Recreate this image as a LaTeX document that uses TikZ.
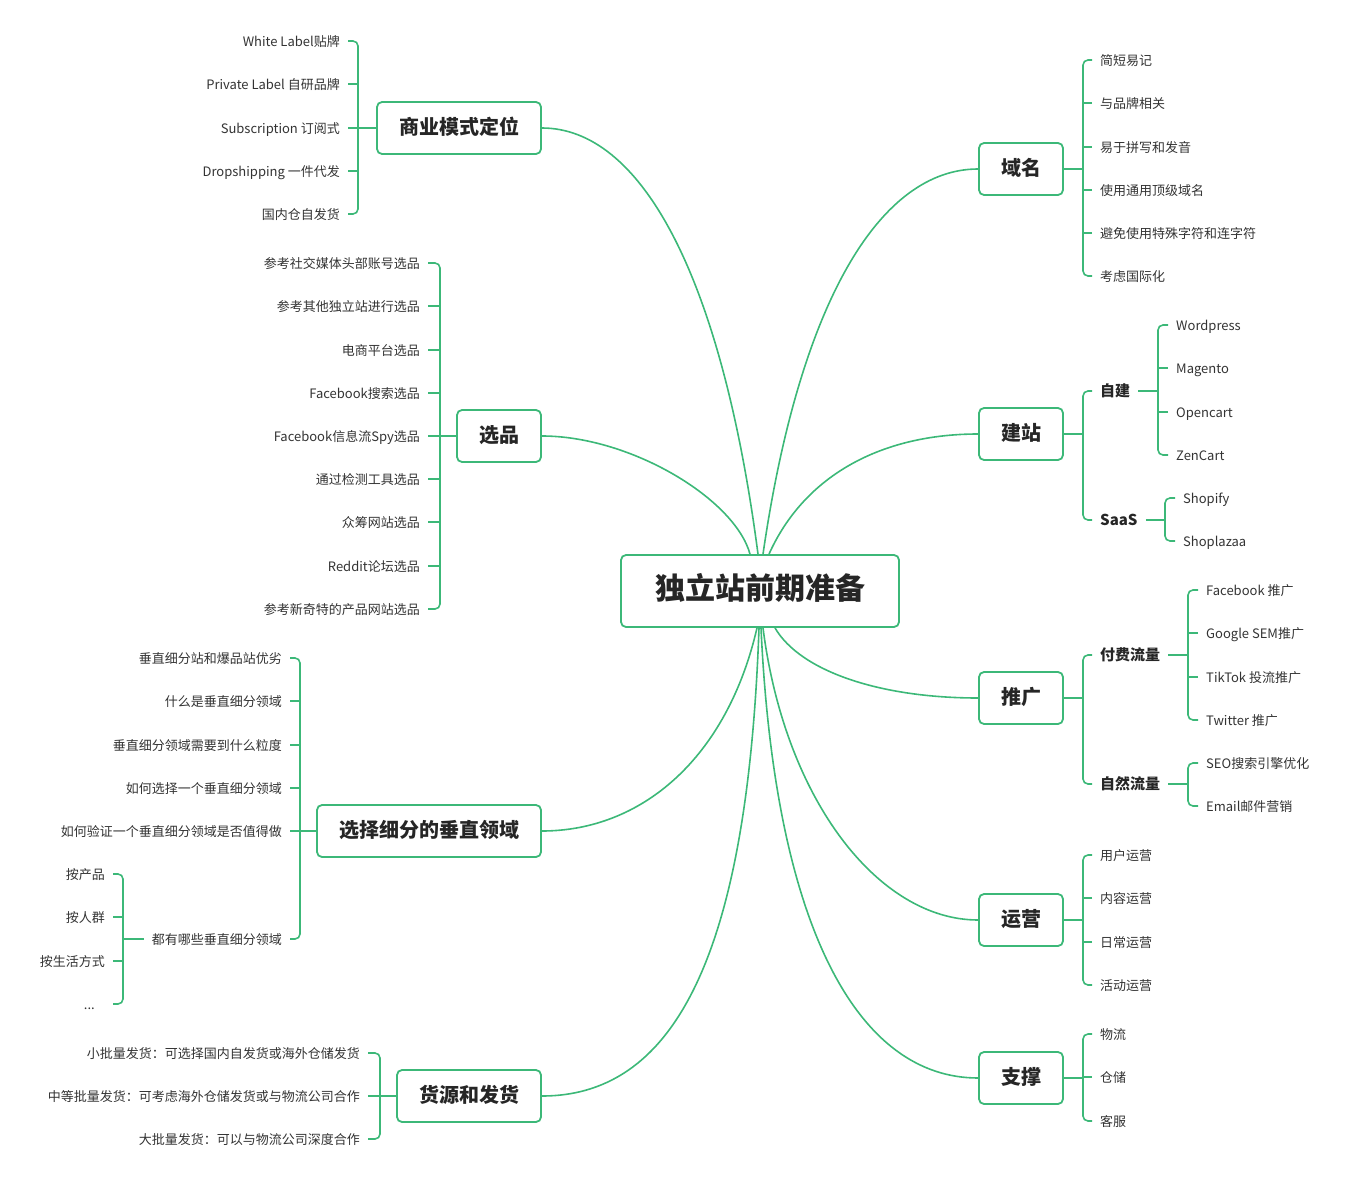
\documentclass[tikz,border=0pt]{standalone}
\usepackage{fontspec}
\setmainfont{Noto Sans CJK SC}
\usepackage{tikz}
\definecolor{mapgreen}{HTML}{3CB878}
\definecolor{leaftext}{HTML}{333333}
\tikzset{
    root/.style={
        rectangle, rounded corners=5pt, minimum width=278pt, minimum height=72pt,
        draw=mapgreen, line width=1.8pt, fill=white, text=black!85,
        text height=1.75em, text depth=0.05em, font=\fontsize{30}{35}\selectfont\bfseries
    },
    topic/.style={
        rectangle, rounded corners=5pt, minimum height=52pt, inner xsep=22pt,
        draw=mapgreen, line width=1.8pt, fill=white, text=black!85,
        text height=1.4em, text depth=0.05em, font=\fontsize{20}{24}\selectfont\bfseries
    },
    subtopic/.style={
        anchor=west, inner xsep=8pt, inner ysep=2pt, text=black!85,
        text height=1.1em, text depth=0.05em, font=\fontsize{15}{18}\selectfont\bfseries
    },
    leaf_r/.style={
        anchor=west, inner xsep=8pt, inner ysep=2pt, text=leaftext,
        text height=1.1em, text depth=0.05em, font=\fontsize{13}{16}\selectfont
    },
    leaf_l/.style={
        anchor=east, inner xsep=8pt, inner ysep=2pt, text=leaftext,
        text height=1.1em, text depth=0.05em, font=\fontsize{13}{16}\selectfont
    },
    curve/.style={draw=mapgreen, line width=1.6pt},
    bracket/.style={draw=mapgreen, line width=1.6pt, rounded corners=5pt}
}
\begin{document}
\begin{tikzpicture}[x=1pt, y=-1pt]
    \useasboundingbox (0,0) rectangle (1349,1182);

    % centre and main topics
    \node[root] (root) at (760,591) {独立站前期准备};
    \node[topic] (biz) at (459,128) {商业模式定位};
    \node[topic] (pick) at (499,436) {选品};
    \node[topic] (niche) at (429,831) {选择细分的垂直领域};
    \node[topic] (supply) at (469,1096) {货源和发货};
    \node[topic] (domain) at (1021,169) {域名};
    \node[topic] (site) at (1021,434) {建站};
    \node[topic] (promo) at (1021,698) {推广};
    \node[topic] (ops) at (1021,920) {运营};
    \node[topic] (support) at (1021,1078) {支撑};

    \draw[curve] ([xshift=-2pt]root.north) .. controls +(-37,-282) and +(98,0) .. (biz.east);
    \draw[curve] ([xshift=-10pt]root.north) .. controls +(-15,-55) and +(89,0) .. (pick.east);
    \draw[curve] ([xshift=3pt]root.north) .. controls +(37,-255) and +(-97,0) .. (domain.west);
    \draw[curve] ([xshift=9pt]root.north) .. controls +(36,-80) and +(-95,0) .. (site.west);
    \draw[curve] ([xshift=15pt]root.south) .. controls +(25,43) and +(-99,0) .. (promo.west);
    \draw[curve] ([xshift=3pt]root.south) .. controls +(22,173) and +(-99,0) .. (ops.west);
    \draw[curve] ([xshift=1pt]root.south) .. controls +(14,303) and +(-119,0) .. (support.west);
    \draw[curve] ([xshift=-3pt]root.south) .. controls +(-30,130) and +(100,0) .. (niche.east);
    \draw[curve] ([xshift=-1pt]root.south) .. controls +(-11,313) and +(139,0) .. (supply.east);

    % 商业模式定位
    \coordinate (bizj) at (358,128);
    \node[leaf_l] (biz1) at (348,41) {White Label贴牌};
    \node[leaf_l] (biz2) at (348,84) {Private Label 自研品牌};
    \node[leaf_l] (biz3) at (348,128) {Subscription 订阅式};
    \node[leaf_l] (biz4) at (348,171) {Dropshipping 一件代发};
    \node[leaf_l] (biz5) at (348,214) {国内仓自发货};
    \draw[bracket] (biz.west) -- (bizj);
    \draw[bracket] (biz1.east) -| (bizj) |- (biz5.east);
    \draw[bracket] (biz2.east) -- (bizj |- biz2.east);
    \draw[bracket] (biz3.east) -- (bizj |- biz3.east);
    \draw[bracket] (biz4.east) -- (bizj |- biz4.east);

    % 选品
    \coordinate (pickj) at (440,436);
    \node[leaf_l] (pick1) at (428,263) {参考社交媒体头部账号选品};
    \node[leaf_l] (pick2) at (428,306) {参考其他独立站进行选品};
    \node[leaf_l] (pick3) at (428,350) {电商平台选品};
    \node[leaf_l] (pick4) at (428,393) {Facebook搜索选品};
    \node[leaf_l] (pick5) at (428,436) {Facebook信息流Spy选品};
    \node[leaf_l] (pick6) at (428,479) {通过检测工具选品};
    \node[leaf_l] (pick7) at (428,522) {众筹网站选品};
    \node[leaf_l] (pick8) at (428,566) {Reddit论坛选品};
    \node[leaf_l] (pick9) at (428,609) {参考新奇特的产品网站选品};
    \draw[bracket] (pick.west) -- (pickj);
    \draw[bracket] (pick1.east) -| (pickj) |- (pick9.east);
    \draw[bracket] (pick2.east) -- (pickj |- pick2.east);
    \draw[bracket] (pick3.east) -- (pickj |- pick3.east);
    \draw[bracket] (pick4.east) -- (pickj |- pick4.east);
    \draw[bracket] (pick5.east) -- (pickj |- pick5.east);
    \draw[bracket] (pick6.east) -- (pickj |- pick6.east);
    \draw[bracket] (pick7.east) -- (pickj |- pick7.east);
    \draw[bracket] (pick8.east) -- (pickj |- pick8.east);

    % 选择细分的垂直领域
    \coordinate (nichej) at (300,831);
    \node[leaf_l] (niche1) at (290,658) {垂直细分站和爆品站优劣};
    \node[leaf_l] (niche2) at (290,701) {什么是垂直细分领域};
    \node[leaf_l] (niche3) at (290,745) {垂直细分领域需要到什么粒度};
    \node[leaf_l] (niche4) at (290,788) {如何选择一个垂直细分领域};
    \node[leaf_l] (niche5) at (290,831) {如何验证一个垂直细分领域是否值得做};
    \node[leaf_l] (niche6) at (290,939) {都有哪些垂直细分领域};
    \draw[bracket] (niche.west) -- (nichej);
    \draw[bracket] (niche1.east) -| (nichej) |- (niche6.east);
    \draw[bracket] (niche2.east) -- (nichej |- niche2.east);
    \draw[bracket] (niche3.east) -- (nichej |- niche3.east);
    \draw[bracket] (niche4.east) -- (nichej |- niche4.east);
    \draw[bracket] (niche5.east) -- (nichej |- niche5.east);

    \coordinate (kindj) at (123,939);
    \node[leaf_l] (kind1) at (113,874) {按产品};
    \node[leaf_l] (kind2) at (113,917) {按人群};
    \node[leaf_l] (kind3) at (113,961) {按生活方式};
    \node[leaf_l, inner xsep=18pt] (kind4) at (113,1004) {...};
    \draw[bracket] (niche6.west) -- (kindj);
    \draw[bracket] (kind1.east) -| (kindj) |- (kind4.east);
    \draw[bracket] (kind2.east) -- (kindj |- kind2.east);
    \draw[bracket] (kind3.east) -- (kindj |- kind3.east);

    % 货源和发货
    \coordinate (supplyj) at (380,1096);
    \node[leaf_l] (supply1) at (368,1053) {小批量发货：可选择国内自发货或海外仓储发货};
    \node[leaf_l] (supply2) at (368,1096) {中等批量发货：可考虑海外仓储发货或与物流公司合作};
    \node[leaf_l] (supply3) at (368,1139) {大批量发货：可以与物流公司深度合作};
    \draw[bracket] (supply.west) -- (supplyj);
    \draw[bracket] (supply1.east) -| (supplyj) |- (supply3.east);
    \draw[bracket] (supply2.east) -- (supplyj |- supply2.east);

    % 域名
    \coordinate (domainj) at (1083,169);
    \node[leaf_r] (domain1) at (1092,60) {简短易记};
    \node[leaf_r] (domain2) at (1092,103) {与品牌相关};
    \node[leaf_r] (domain3) at (1092,147) {易于拼写和发音};
    \node[leaf_r] (domain4) at (1092,190) {使用通用顶级域名};
    \node[leaf_r] (domain5) at (1092,233) {避免使用特殊字符和连字符};
    \node[leaf_r] (domain6) at (1092,276) {考虑国际化};
    \draw[bracket] (domain.east) -- (domainj);
    \draw[bracket] (domain1.west) -| (domainj) |- (domain6.west);
    \draw[bracket] (domain2.west) -- (domainj |- domain2.west);
    \draw[bracket] (domain3.west) -- (domainj |- domain3.west);
    \draw[bracket] (domain4.west) -- (domainj |- domain4.west);
    \draw[bracket] (domain5.west) -- (domainj |- domain5.west);

    % 建站
    \coordinate (sitej) at (1083,434);
    \node[subtopic] (self) at (1092,391) {自建};
    \node[subtopic] (saas) at (1092,520) {SaaS};
    \draw[bracket] (site.east) -- (sitej);
    \draw[bracket] (self.west) -| (sitej) |- (saas.west);

    \coordinate (selfj) at (1158,391);
    \node[leaf_r] (self1) at (1168,325) {Wordpress};
    \node[leaf_r] (self2) at (1168,368) {Magento};
    \node[leaf_r] (self3) at (1168,412) {Opencart};
    \node[leaf_r] (self4) at (1168,455) {ZenCart};
    \draw[bracket] (self.east) -- (selfj);
    \draw[bracket] (self1.west) -| (selfj) |- (self4.west);
    \draw[bracket] (self2.west) -- (selfj |- self2.west);
    \draw[bracket] (self3.west) -- (selfj |- self3.west);

    \coordinate (saasj) at (1165,520);
    \node[leaf_r] (saas1) at (1175,498) {Shopify};
    \node[leaf_r] (saas2) at (1175,541) {Shoplazaa};
    \draw[bracket] (saas.east) -- (saasj);
    \draw[bracket] (saas1.west) -| (saasj) |- (saas2.west);

    % 推广
    \coordinate (promoj) at (1083,698);
    \node[subtopic] (paid) at (1092,655) {付费流量};
    \node[subtopic] (free) at (1092,784) {自然流量};
    \draw[bracket] (promo.east) -- (promoj);
    \draw[bracket] (paid.west) -| (promoj) |- (free.west);

    \coordinate (paidj) at (1188,655);
    \node[leaf_r] (paid1) at (1198,590) {Facebook 推广};
    \node[leaf_r] (paid2) at (1198,633) {Google SEM推广};
    \node[leaf_r] (paid3) at (1198,677) {TikTok 投流推广};
    \node[leaf_r] (paid4) at (1198,720) {Twitter 推广};
    \draw[bracket] (paid.east) -- (paidj);
    \draw[bracket] (paid1.west) -| (paidj) |- (paid4.west);
    \draw[bracket] (paid2.west) -- (paidj |- paid2.west);
    \draw[bracket] (paid3.west) -- (paidj |- paid3.west);

    \coordinate (freej) at (1188,784);
    \node[leaf_r] (free1) at (1198,763) {SEO搜索引擎优化};
    \node[leaf_r] (free2) at (1198,806) {Email邮件营销};
    \draw[bracket] (free.east) -- (freej);
    \draw[bracket] (free1.west) -| (freej) |- (free2.west);

    % 运营
    \coordinate (opsj) at (1083,920);
    \node[leaf_r] (ops1) at (1092,855) {用户运营};
    \node[leaf_r] (ops2) at (1092,898) {内容运营};
    \node[leaf_r] (ops3) at (1092,942) {日常运营};
    \node[leaf_r] (ops4) at (1092,985) {活动运营};
    \draw[bracket] (ops.east) -- (opsj);
    \draw[bracket] (ops1.west) -| (opsj) |- (ops4.west);
    \draw[bracket] (ops2.west) -- (opsj |- ops2.west);
    \draw[bracket] (ops3.west) -- (opsj |- ops3.west);

    % 支撑
    \coordinate (supportj) at (1083,1078);
    \node[leaf_r] (support1) at (1092,1034) {物流};
    \node[leaf_r] (support2) at (1092,1077) {仓储};
    \node[leaf_r] (support3) at (1092,1121) {客服};
    \draw[bracket] (support.east) -- (supportj);
    \draw[bracket] (support1.west) -| (supportj) |- (support3.west);
    \draw[bracket] (support2.west) -- (supportj |- support2.west);
\end{tikzpicture}
\end{document}
